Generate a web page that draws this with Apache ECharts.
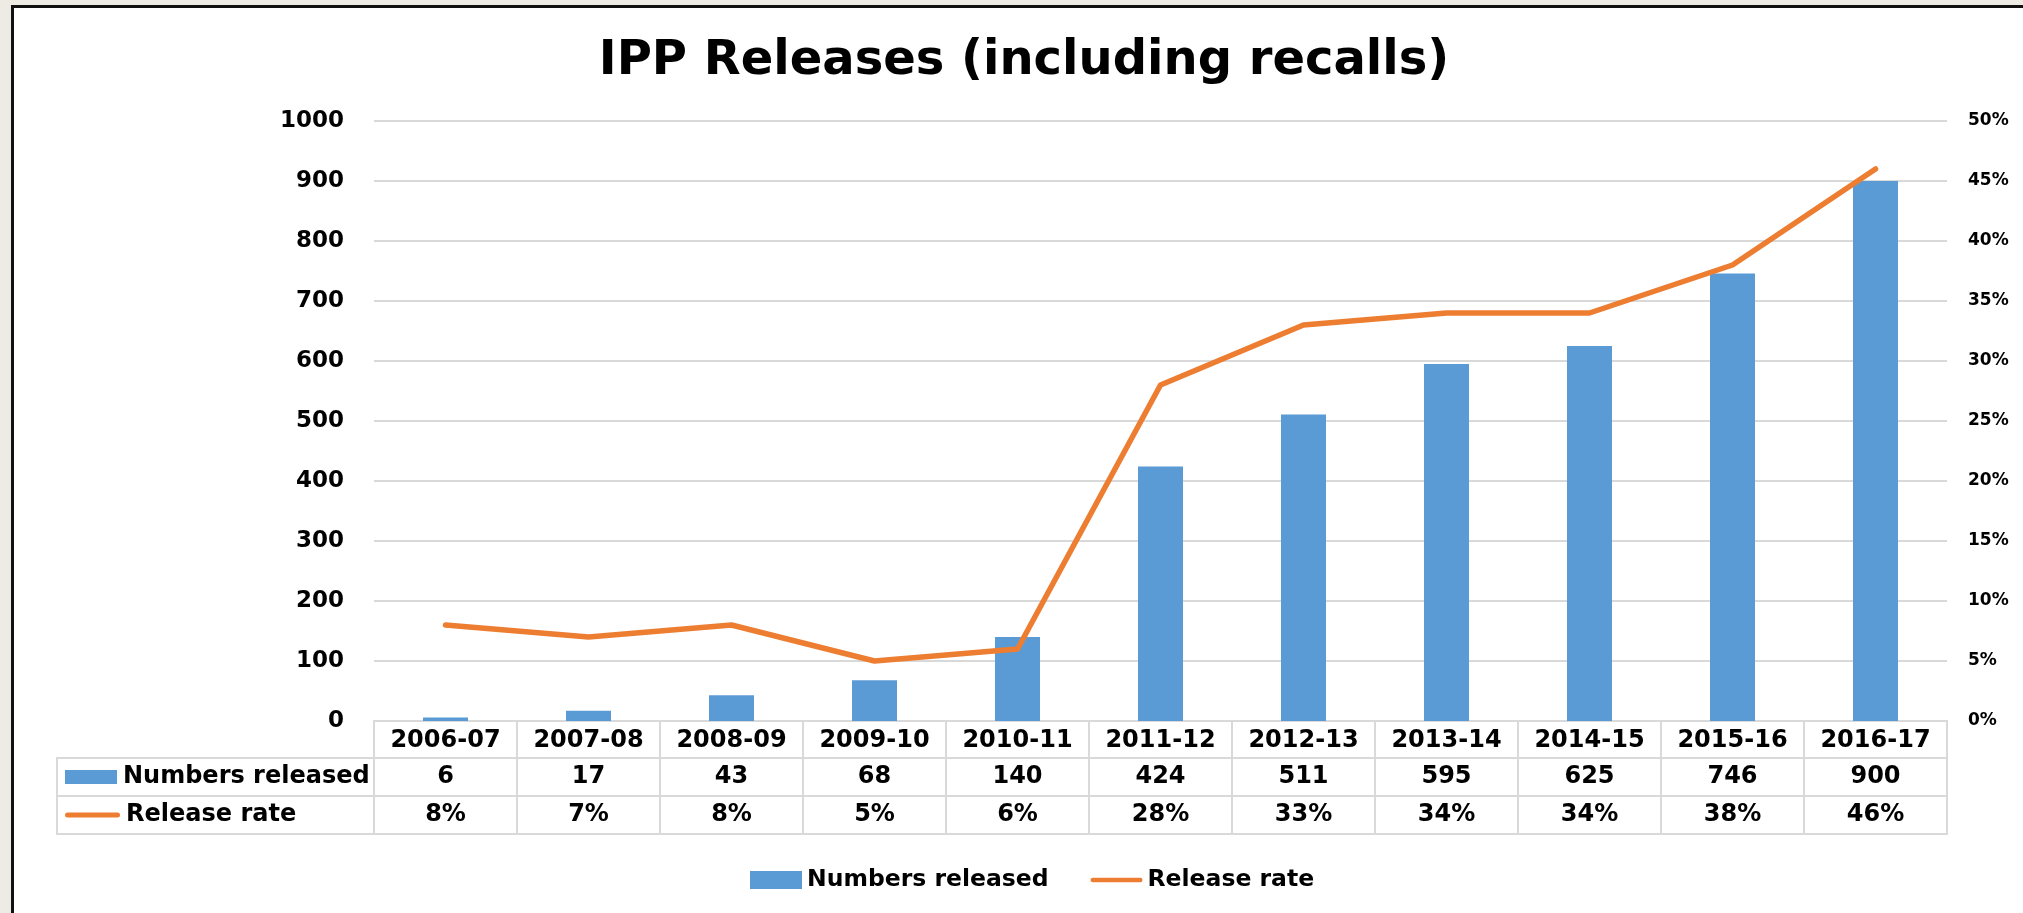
<!DOCTYPE html>
<html>
<head>
<meta charset="utf-8">
<title>IPP Releases</title>
<script src="https://cdn.jsdelivr.net/npm/echarts@6/dist/echarts.min.js"></script>
<style>
    html, body { margin: 0; padding: 0; background: #EEEBE4; width: 2023px; height: 913px; overflow: hidden; }
    #chart { position: absolute; left: 11px; top: 5px; width: 2009px; height: 905px; background: #fff;
             border-left: 3px solid #111; border-top: 3px solid #111; }
</style>
</head>
<body>
<div id="chart"></div>
<script>
var categories = ['2006-07', '2007-08', '2008-09', '2009-10', '2010-11', '2011-12', '2012-13', '2013-14', '2014-15', '2015-16', '2016-17'];
var released = [6, 17, 43, 68, 140, 424, 511, 595, 625, 746, 900];
var releaseRate = [8, 7, 8, 5, 6, 28, 33, 34, 34, 38, 46];
var rowNames = ['Numbers released', 'Release rate'];

var FONT = 'DejaVu Sans';
var BLUE = '#5B9BD5';
var ORANGE = '#ED7D31';
var GRID_COLOR = '#D9D9D9';

function cellLabel(formatter) {
    return {
        show: true, position: 'inside',
        fontFamily: FONT, fontSize: 24, fontWeight: 'bold', color: '#000',
        textBorderWidth: 0, opacity: 1,
        formatter: formatter
    };
}

function loadReleaseChart() {
    var myChart = echarts.init(document.getElementById('chart'));

    var cellLine = { show: true, interval: 0, lineStyle: { color: GRID_COLOR, width: 2 } };
    var hidden = { show: false };

    var option = {
        backgroundColor: '#fff',
        animation: false,
        textStyle: { fontFamily: FONT },
        title: {
            text: 'IPP Releases (including recalls)',
            left: 1005,
            textAlign: 'center',
            top: 25,
            textStyle: { fontFamily: FONT, fontSize: 48, fontWeight: 'bold', color: '#000' }
        },
        legend: {
            data: [
                { name: rowNames[0], icon: 'rect' },
                { name: rowNames[1], icon: 'path://M2.5,0 L52.5,0 A2.5,2.5 0 0 1 52.5,5 L2.5,5 A2.5,2.5 0 0 1 2.5,0 Z', itemStyle: { color: ORANGE } }
            ],
            left: 731,
            top: 855,
            itemWidth: 52,
            itemHeight: 18,
            itemGap: 42,
            textStyle: { fontFamily: FONT, fontSize: 23.5, fontWeight: 'bold', color: '#000' }
        },
        grid: [
            // main plot
            { left: 360, top: 113, width: 1573, height: 600 },
            // header row of the table
            { left: 360, top: 713, width: 1573, height: 37, show: true, borderColor: GRID_COLOR, borderWidth: 2 },
            // value rows of the table
            { left: 360, top: 750, width: 1573, height: 76, show: true, borderColor: GRID_COLOR, borderWidth: 2 },
            // legend column of the table
            { left: 43, top: 750, width: 317, height: 76, show: true, borderColor: GRID_COLOR, borderWidth: 2 }
        ],
        xAxis: [
            {
                type: 'category', gridIndex: 0, data: categories,
                axisLine: { lineStyle: { color: GRID_COLOR, width: 2 } },
                axisTick: hidden,
                axisLabel: { interval: 0, margin: 8, fontFamily: FONT, fontSize: 24, fontWeight: 'bold', color: '#000' }
            },
            {
                type: 'category', gridIndex: 1, data: categories,
                axisLine: hidden, axisTick: hidden, axisLabel: hidden, splitLine: cellLine
            },
            {
                type: 'category', gridIndex: 2, data: categories,
                axisLine: hidden, axisTick: hidden, axisLabel: hidden, splitLine: cellLine
            },
            { type: 'value', gridIndex: 3, show: false }
        ],
        yAxis: [
            {
                type: 'value', gridIndex: 0, min: 0, max: 1000, interval: 100,
                axisLine: hidden, axisTick: hidden,
                axisLabel: {
                    margin: 30, fontFamily: FONT, fontSize: 23, fontWeight: 'bold', color: '#000',
                    formatter: function (v) { return String(v); }
                },
                splitLine: { lineStyle: { color: GRID_COLOR, width: 2 } }
            },
            {
                type: 'value', gridIndex: 0, min: 0, max: 50, interval: 5, position: 'right',
                axisLine: hidden, axisTick: hidden, splitLine: hidden,
                axisLabel: { margin: 21, formatter: '{value}%', fontFamily: FONT, fontSize: 17, fontWeight: 'bold', color: '#000' }
            },
            { type: 'value', gridIndex: 1, show: false },
            {
                type: 'category', gridIndex: 2, data: rowNames, inverse: true,
                axisLine: hidden, axisTick: hidden, axisLabel: hidden, splitLine: cellLine
            },
            {
                type: 'category', gridIndex: 3, data: rowNames, inverse: true,
                axisLine: hidden, axisTick: hidden, splitLine: cellLine,
                axisLabel: {
                    inside: true, margin: 8, interval: 0,
                    formatter: function (v) {
                        return (v === rowNames[0] ? '{bar|}' : '{line|}') + '{t|' + v + '}';
                    },
                    rich: {
                        bar: { width: 52, height: 14, backgroundColor: BLUE, verticalAlign: 'middle' },
                        line: { width: 55, height: 5, backgroundColor: ORANGE, borderRadius: 3, verticalAlign: 'middle' },
                        t: { fontFamily: FONT, fontSize: 24, fontWeight: 'bold', color: '#000', padding: [0, 0, 0, 6], verticalAlign: 'middle' }
                    }
                }
            }
        ],
        series: [
            {
                name: rowNames[0],
                type: 'bar',
                xAxisIndex: 0, yAxisIndex: 0,
                barWidth: 45,
                itemStyle: { color: BLUE },
                data: released
            },
            {
                name: rowNames[1],
                type: 'line',
                xAxisIndex: 0, yAxisIndex: 1,
                symbol: 'none',
                lineStyle: { color: ORANGE, width: 5.5, cap: 'round', join: 'round' },
                itemStyle: { color: ORANGE },
                data: releaseRate
            },
            {
                name: 'tableReleased',
                type: 'scatter',
                xAxisIndex: 2, yAxisIndex: 3,
                symbolSize: 0,
                silent: true,
                itemStyle: { color: '#000', opacity: 1 },
                label: cellLabel(function (p) { return p.value[2]; }),
                data: categories.map(function (c, i) { return [c, rowNames[0], released[i]]; })
            },
            {
                name: 'tableRate',
                type: 'scatter',
                xAxisIndex: 2, yAxisIndex: 3,
                symbolSize: 0,
                silent: true,
                itemStyle: { color: '#000', opacity: 1 },
                label: cellLabel(function (p) { return p.value[2] + '%'; }),
                data: categories.map(function (c, i) { return [c, rowNames[1], releaseRate[i]]; })
            }
        ]
    };
    myChart.setOption(option);
}

loadReleaseChart();
</script>
</body>
</html>
